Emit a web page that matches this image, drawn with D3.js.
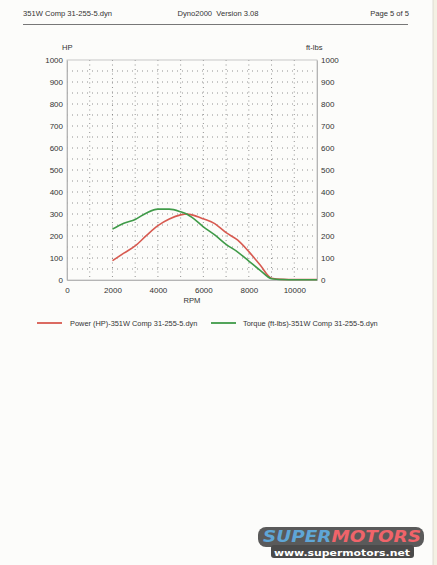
<!DOCTYPE html>
<html><head><meta charset="utf-8">
<script src="https://cdn.jsdelivr.net/npm/d3@7"></script>
<style>
html,body{margin:0;padding:0;background:#fcfcfa;}
svg{display:block;font-family:"Liberation Sans",Arial,sans-serif;}
</style></head><body>
<svg id="c" width="437" height="565"></svg>
<script>
// ---- data ----
const rpm        = [2000, 2500, 3000, 3500, 4000, 4500, 5000, 5300, 5500, 6000, 6500, 7000, 7500, 8000, 8500, 9000, 9500, 10000, 11000];
const powerHP    = [88, 122, 155, 203, 247, 277, 296, 300, 296, 278, 256, 215, 182, 129, 68, 8, 3, 2, 2];
const torqueFtLb = [231, 258, 275, 305, 322, 322, 310, 298, 285, 242, 205, 162, 128, 86, 44, 6, 2, 1, 1];
const xTicks = [0, 2000, 4000, 6000, 8000, 10000];
const yTicks = [0, 100, 200, 300, 400, 500, 600, 700, 800, 900, 1000];
const headerTexts = ["351W Comp 31-255-5.dyn", "Dyno2000  Version 3.08", "Page 5 of 5"];
const seriesNames = ["Power (HP)-351W Comp 31-255-5.dyn", "Torque (ft-lbs)-351W Comp 31-255-5.dyn"];
const seriesColors = ["#d75a50", "#3f9a48"];

const svg = d3.select("#c");
// scan edge
svg.append("rect").attr("x",433).attr("y",0).attr("width",4).attr("height",565).attr("fill","#f4f1e4");
svg.append("line").attr("x1",433).attr("x2",433).attr("y1",0).attr("y2",565).attr("stroke","#d8d6cc").attr("stroke-width",0.8);

// header
const hf = 7.6;
svg.append("text").attr("x",23).attr("y",16).attr("font-size",hf).attr("fill","#333").text(headerTexts[0]);
svg.append("text").attr("x",218).attr("y",16).attr("font-size",hf).attr("fill","#333").attr("text-anchor","middle").attr("xml:space","preserve").style("white-space","pre").text(headerTexts[1]);
svg.append("text").attr("x",409).attr("y",16).attr("font-size",hf).attr("fill","#333").attr("text-anchor","end").text(headerTexts[2]);
svg.append("line").attr("x1",23).attr("x2",408).attr("y1",24.5).attr("y2",24.5).attr("stroke","#777").attr("stroke-width",1.2);

const x = d3.scaleLinear().domain([0,11000]).range([67,317]);
const y = d3.scaleLinear().domain([0,1000]).range([280,60]);

// dotted grid
const g = svg.append("g");
for (let v = 1000; v <= 10000; v += 1000) {
  g.append("line").attr("x1",x(v)).attr("x2",x(v)).attr("y1",y(1000)).attr("y2",y(0))
   .attr("stroke","#777").attr("stroke-width",0.8).attr("stroke-dasharray","1,3.5");
}
for (let v = 50; v < 1000; v += 50) {
  g.append("line").attr("x1",x(0)).attr("x2",x(11000)).attr("y1",y(v)).attr("y2",y(v))
   .attr("stroke","#777").attr("stroke-width",0.8).attr("stroke-dasharray","1,4");
}
// frame
g.append("rect").attr("x",x(0)).attr("y",y(1000)).attr("width",x(11000)-x(0)).attr("height",y(0)-y(1000))
 .attr("fill","none").attr("stroke","#bbb").attr("stroke-width",0.8);

// axes
const ax = d3.axisBottom(x).tickValues(xTicks).tickSize(0).tickPadding(7).tickFormat(d3.format("d"));
const ay = d3.axisLeft(y).tickValues(yTicks).tickSize(0).tickPadding(4).tickFormat(d3.format("d"));
const ay2 = d3.axisRight(y).tickValues(yTicks).tickSize(0).tickPadding(4).tickFormat(d3.format("d"));
[[ax,`translate(0,${y(0)})`],[ay,`translate(${x(0)},0)`],[ay2,`translate(${x(11000)},0)`]].forEach(([a,t])=>{
  const s = svg.append("g").attr("transform",t).call(a);
  s.select(".domain").attr("stroke","#aaa").attr("stroke-width",0.8);
  s.selectAll("text").attr("font-size",8).attr("fill","#333").attr("font-family","Liberation Sans,Arial,sans-serif");
});
svg.append("text").attr("x",62).attr("y",50).attr("font-size",7.6).attr("fill","#333").text("HP");
svg.append("text").attr("x",306).attr("y",50).attr("font-size",7.6).attr("fill","#333").text("ft-lbs");
svg.append("text").attr("x",(x(0)+x(11000))/2).attr("y",303).attr("font-size",7.6).attr("fill","#333").attr("text-anchor","middle").text("RPM");

// lines
const line = d3.line().x((d,i)=>x(rpm[i])).y(d=>y(d)).curve(d3.curveMonotoneX);
[powerHP, torqueFtLb].forEach((s,k)=>{
  svg.append("path").datum(s).attr("d",line).attr("fill","none")
     .attr("stroke",seriesColors[k]).attr("stroke-width",1.6).attr("stroke-linejoin","round");
});

// legend
const lg = [[37,70],[211,243]];
seriesNames.forEach((n,k)=>{
  svg.append("line").attr("x1",lg[k][0]).attr("x2",lg[k][0]+25).attr("y1",323).attr("y2",323)
     .attr("stroke",seriesColors[k]).attr("stroke-width",1.8);
  svg.append("text").attr("x",lg[k][1]).attr("y",326).attr("font-size",7.4).attr("fill","#333").text(n);
});

// watermark logo
const wm = svg.append("g");
wm.append("rect").attr("x",258).attr("y",527).attr("width",166).attr("height",20).attr("rx",8).attr("fill","#5a5a5a");
wm.append("rect").attr("x",271).attr("y",545).attr("width",143).attr("height",13).attr("rx",3).attr("fill","#4a4a4a");
wm.append("text").attr("x",263).attr("y",542).attr("font-size",15).attr("font-weight","bold").attr("font-style","italic")
  .attr("font-family","DejaVu Sans,sans-serif").attr("textLength",158).attr("lengthAdjust","spacingAndGlyphs")
  .html('<tspan fill="#5fa6d6">SUPER</tspan><tspan fill="#f0646a">MOTORS</tspan>');
wm.append("text").attr("x",342).attr("y",556).attr("font-size",8.5).attr("font-weight","bold").attr("fill","#fff")
  .attr("text-anchor","middle").attr("font-family","DejaVu Sans,sans-serif").attr("textLength",136).attr("lengthAdjust","spacingAndGlyphs")
  .text("www.supermotors.net");
</script>
</body></html>
